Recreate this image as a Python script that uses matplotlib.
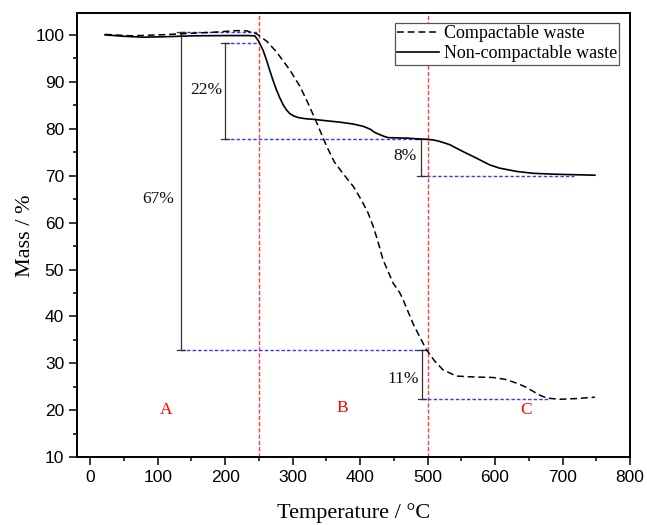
import matplotlib
matplotlib.use("Agg")
import matplotlib.pyplot as plt

# TG curves (temperature in degC, mass in %)
comp_t = [22, 60, 103, 153, 187, 217, 232, 247, 262, 276, 296, 311, 323, 336, 350, 362,
          375, 390, 402, 412, 420, 427, 434, 449, 459, 464, 479, 498, 510, 523, 543, 570,
          597, 615, 632, 645, 657, 667, 677, 696, 720, 748]
comp_m = [100.1, 99.8, 100.0, 100.35, 100.6, 100.9, 100.85, 100.2, 98.6, 96.4, 92.5, 89.0,
          85.4, 81.2, 76.4, 72.9, 70.4, 67.7, 64.8, 62.0, 59.0, 55.7, 52.1, 47.1, 45.0, 43.5,
          38.3, 33.0, 30.6, 28.6, 27.3, 27.1, 27.0, 26.6, 25.8, 25.0, 24.0, 23.2, 22.6,
          22.36, 22.5, 22.8]

noncomp_t = [22, 50, 79, 110, 153, 200, 232, 244, 249, 256, 261, 266, 271, 276, 281,
             286, 291, 296, 302, 308, 318, 331, 350, 370, 390, 405, 415, 422, 430, 436,
             442, 455, 469, 491, 499, 509, 518, 533, 553, 573, 592, 607, 632, 657, 691, 748]
noncomp_m = [100.0, 99.7, 99.5, 99.6, 99.8, 99.85, 99.85, 99.8, 98.8, 96.8, 94.8, 92.5,
             90.3, 88.3, 86.6, 85.1, 84.0, 83.2, 82.7, 82.4, 82.15, 82.0, 81.7, 81.4,
             81.0, 80.5, 79.9, 79.2, 78.7, 78.35, 78.1, 78.05, 78.0, 77.8, 77.75, 77.6,
             77.3, 76.6, 75.1, 73.7, 72.3, 71.6, 70.9, 70.5, 70.3, 70.1]

# stage boundaries and stage labels
stage_bounds = [250, 500]
stage_names = ["A", "B", "C"]
stage_x = [112, 373, 646]
stage_y = [20.1, 20.5, 20.1]

# mass-loss brackets: x of bar, top, bottom, label, label position
loss_x = [134, 200, 491, 492]
loss_top = [100.6, 98.2, 77.8, 32.86]
loss_bot = [32.86, 77.8, 70.0, 22.36]
loss_lbl = ["67%", "22%", "8%", "11%"]
loss_lx = [101, 172.6, 466.5, 463.5]
loss_ly = [65.0, 88.3, 74.1, 26.6]

# blue dashed guide lines: y, x start, x end
guide_y = [100.6, 98.2, 77.8, 70.0, 32.86, 22.36]
guide_x0 = [134, 200, 200, 491, 134, 492]
guide_x1 = [250, 250, 491, 717, 500, 680]

SERIF = ["Liberation Serif", "DejaVu Serif"]
SANS = ["Liberation Sans", "DejaVu Sans"]

fig = plt.figure(figsize=(6.47, 5.25), dpi=100)
ax = fig.add_axes([0.1185, 0.129, 0.8552, 0.8457])

for xb in stage_bounds:
    ax.axvline(xb, color="#ff4040", lw=1.0, ls=(0, (3, 1.5)), zorder=1)

for y, x0, x1 in zip(guide_y, guide_x0, guide_x1):
    ax.plot([x0, x1], [y, y], color="#3a3aff", lw=1.0, ls=(0, (2.5, 1.5)), zorder=2)

cap = 6
for x, t, b in zip(loss_x, loss_top, loss_bot):
    ax.plot([x, x], [t, b], color="#333333", lw=0.9, zorder=3)
    ax.plot([x - cap, x + cap], [t, t], color="#333333", lw=0.9, zorder=3)
    ax.plot([x - cap, x + cap], [b, b], color="#333333", lw=0.9, zorder=3)
for s, x, y in zip(loss_lbl, loss_lx, loss_ly):
    ax.text(x, y, s, ha="center", va="center", fontsize=12.5, family=SERIF, color="#111111")

for s, x, y in zip(stage_names, stage_x, stage_y):
    ax.text(x, y, s, ha="center", va="center", fontsize=12.5, family=SERIF, color="red")

ax.plot(comp_t, comp_m, color="black", lw=1.1, ls=(0, (4.5, 2.5)), label="Compactable waste", zorder=4)
ax.plot(noncomp_t, noncomp_m, color="black", lw=1.2, label="Non-compactable waste", zorder=4)

ax.set_xlim(-20, 800)
ax.set_ylim(10, 104.6)
ax.set_xticks(range(0, 801, 100))
ax.set_xticks(range(50, 800, 100), minor=True)
ax.set_yticks(range(10, 101, 10))
ax.set_yticks(range(15, 101, 10), minor=True)
ax.tick_params(which="major", direction="out", length=5.5, width=1.1, labelsize=12.5, pad=3.5)
ax.tick_params(which="minor", direction="out", length=3, width=1.1)
for lab in ax.get_xticklabels() + ax.get_yticklabels():
    lab.set_family(SANS)
for sp in ax.spines.values():
    sp.set_linewidth(1.4)

ax.set_xlabel("Temperature / \u00b0C", fontsize=16, family=SERIF, labelpad=13)
ax.set_ylabel("Mass / %", fontsize=16, family=SERIF, labelpad=0)

leg = ax.legend(loc="upper right", bbox_to_anchor=(0.981, 0.979), borderaxespad=0,
                prop={"family": SERIF, "size": 13}, handlelength=2.3, handletextpad=0.25,
                borderpad=0.15, labelspacing=0.15, fancybox=False, framealpha=1)
leg.get_frame().set_edgecolor("#555555")
leg.get_frame().set_linewidth(0.9)
leg.set_zorder(10)

fig.savefig("out.png", dpi=100)
